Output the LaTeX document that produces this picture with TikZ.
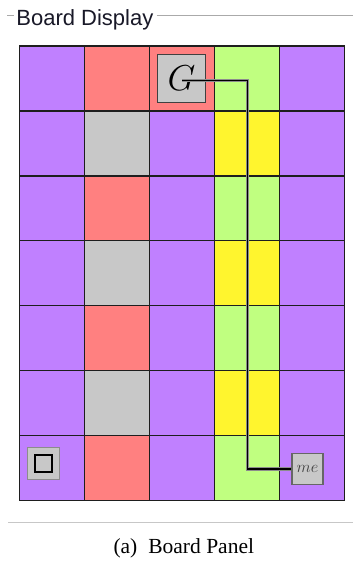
\RequirePackage{fix-cm}
\documentclass[tikz,border=0pt]{standalone}
\usepackage{fontspec}
\setmainfont{Liberation Serif}
\newfontfamily\uisans{Liberation Sans}
\definecolor{cpurple}{RGB}{192,128,255}
\definecolor{cred}{RGB}{255,128,128}
\definecolor{cgray}{RGB}{200,200,200}
\definecolor{cgreen}{RGB}{192,255,128}
\definecolor{cyellow}{RGB}{255,245,46}
\definecolor{gridc}{RGB}{30,30,30}
\definecolor{framec}{RGB}{170,170,170}
\definecolor{titlec}{RGB}{25,25,40}
\tikzset{
  gridline/.style={draw=gridc, line width=1.4pt},
  framerule/.style={draw=framec, line width=1pt},
  piece/.style={draw=black!75, fill=cgray, line width=1.3pt, inner sep=0pt},
  pathhalo/.style={draw=black!45, line width=3.2pt},
  pathline/.style={draw=black, line width=1.5pt},
}
\begin{document}
\begin{tikzpicture}[x=1pt,y=-1pt]
\useasboundingbox (0,0) rectangle (353,563);
\fill[white] (0,0) rectangle (353,563);
% title and frame rules
\node[anchor=base west, inner sep=0pt, text=titlec, font=\uisans\fontsize{22}{24}\selectfont] (title) at (16.2,25) {Board Display};
\draw[framerule] (7.3,15) -- (14,15);
\draw[framerule] (156.7,15) -- (353,15);
\draw[draw=black!22, line width=1.5pt] (8,522.7) -- (353,522.7);
% cells
\fill[cpurple] (19.5,46) rectangle (344.5,500.5);
\foreach \r in {0,2,4,6} {
  \fill[cred] (84.5,{46+\r*64.93}) rectangle (149.5,{46+(\r+1)*64.93});
  \fill[cgreen] (214.5,{46+\r*64.93}) rectangle (279.5,{46+(\r+1)*64.93});
}
\foreach \r in {1,3,5} {
  \fill[cgray] (84.5,{46+\r*64.93}) rectangle (149.5,{46+(\r+1)*64.93});
  \fill[cyellow] (214.5,{46+\r*64.93}) rectangle (279.5,{46+(\r+1)*64.93});
}
\fill[cred] (149.5,46) rectangle (214.5,110.93);
% grid
\foreach \x in {84.5,149.5,214.5,279.5} \draw[gridline] (\x,46) -- (\x,500.5);
\foreach \r in {1,...,6} \draw[gridline] (19.5,{46+\r*64.93}) -- (344.5,{46+\r*64.93});
\draw[gridline] (19.5,46) rectangle (344.5,500.5);
% pieces
\node[piece, minimum size=48pt] (G) at (181.5,78.4) {\fontsize{36}{36}\selectfont$G$};
\node[piece, minimum size=31pt, draw=black!60, text=black!75] (me) at (307.5,469) {\fontsize{16.5}{16.5}\selectfont$me$};
\node[piece, minimum size=31.6pt, draw=black!45, fill=black!22, line width=1pt] (icon) at (43.5,463.5) {};
\node[draw=black, fill=cgray, line width=2.6pt, minimum size=17pt, inner sep=0pt] (iconin) at (icon.center) {};
% connector
\coordinate (gs) at (182,80.7);
\coordinate (turn) at (247.3,80.7);
\draw[pathhalo] (gs) -- (turn) |- (me.west);
\draw[pathline] (gs) -- (turn) |- (me.west);
% caption
\node[anchor=base west, inner sep=0pt, font=\fontsize{21.5}{24}\selectfont] (caption) at (113.3,553.3) {(a)\hspace{11pt}Board Panel};
\end{tikzpicture}
\end{document}
